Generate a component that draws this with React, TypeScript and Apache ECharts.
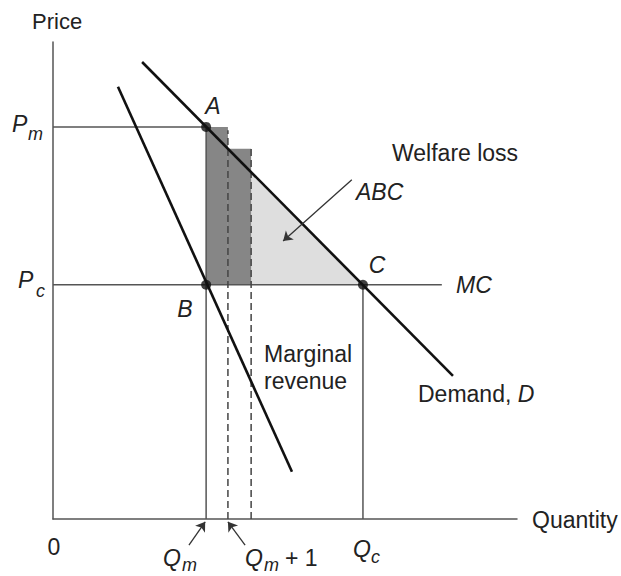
import React, { useEffect, useRef } from "react";
import * as echarts from "echarts";

// Quantities and prices (axis units 0..100)
const Qm = 33.0;
const Qm1 = 37.7;
const Qm2 = 42.7;
const Qc = 66.8;
const Pm = 82.2;
const Pc = 49.1;
const bar2Top = 77.6;

const demandLine: number[][] = [[19.2, 95.8], [86.2, 30.0]];
const mrLine: number[][] = [[14.0, 90.6], [51.5, 9.9]];
const mcLine: number[][] = [[0, Pc], [83.8, Pc]];
const pmLine: number[][] = [[0, Pm], [Qm, Pm]];
const qmLine: number[][] = [[Qm, 0], [Qm, Pm]];
const qcLine: number[][] = [[Qc, 0], [Qc, Pc]];
const dash1: number[][] = [[Qm1, 0], [Qm1, 81.5]];
const dash2: number[][] = [[Qm2, 0], [Qm2, bar2Top]];
const triangle: number[][] = [[Qm, Pm], [Qc, Pc], [Qm, Pc]];
const bars: number[][] = [
  [Qm, Qm1, Pm, Pc],
  [Qm1, Qm2, bar2Top, Pc],
];
const points: number[][] = [[Qm, Pm], [Qm, Pc], [Qc, Pc]];
const arrowLines: number[][][] = [
  [[64.4, 71.1], [49.6, 58.3]],
  [[29.3, -5.5], [32.8, -0.6]],
  [[41.4, -5.5], [37.7, -0.6]],
];

const FONT = "'Liberation Sans', Arial, Helvetica, sans-serif";
const TXT = "#222";

function txt(x: number, y: number, text: string, opts: any = {}) {
  return {
    type: "text",
    x,
    y,
    style: {
      text,
      fill: TXT,
      font: `${opts.italic ? "italic " : ""}${opts.size || 23}px ${FONT}`,
      textAlign: opts.align || "left",
      textVerticalAlign: "middle",
      verticalAlign: "middle",
      rich: opts.rich,
    },
  };
}

export default function App() {
  const ref = useRef<HTMLDivElement>(null);
  useEffect(() => {
    if (!ref.current) return;
    const chart = echarts.init(ref.current, null, { renderer: "svg" });
    const thin = { color: "#555", width: 1.5 };
    const thick = { color: "#111", width: 2.6 };
    const lineSeries = (data: number[][], style: any) => ({
      type: "line",
      data,
      symbol: "none",
      lineStyle: style,
      silent: true,
      z: 3,
    });
    chart.setOption({
      animation: false,
      backgroundColor: "#fff",
      grid: { left: 53, top: 42, right: 104, bottom: 57 },
      xAxis: {
        type: "value",
        min: 0,
        max: 100,
        axisLine: { lineStyle: { color: "#555", width: 1.5 } },
        axisTick: { show: false },
        axisLabel: { show: false },
        splitLine: { show: false },
      },
      yAxis: {
        type: "value",
        min: 0,
        max: 100,
        axisLine: { show: true, lineStyle: { color: "#555", width: 1.5 } },
        axisTick: { show: false },
        axisLabel: { show: false },
        splitLine: { show: false },
      },
      series: [
        {
          type: "custom",
          data: [0],
          z: 1,
          renderItem: (_p: any, api: any) => ({
            type: "polygon",
            shape: { points: triangle.map((p) => api.coord(p)) },
            style: { fill: "#dedede" },
          }),
        },
        {
          type: "custom",
          data: bars,
          z: 2,
          renderItem: (_p: any, api: any) => {
            const a = api.coord([api.value(0), api.value(2)]);
            const b = api.coord([api.value(1), api.value(3)]);
            return {
              type: "rect",
              shape: { x: a[0], y: a[1], width: b[0] - a[0], height: b[1] - a[1] },
              style: { fill: "#868686" },
            };
          },
        },
        lineSeries(pmLine, thin),
        lineSeries(mcLine, thin),
        lineSeries(qmLine, thin),
        lineSeries(qcLine, thin),
        lineSeries(dash1, { color: "#444", width: 1.5, type: [7, 4] }),
        lineSeries(dash2, { color: "#444", width: 1.5, type: [7, 4] }),
        lineSeries(demandLine, thick),
        lineSeries(mrLine, thick),
        {
          type: "lines",
          coordinateSystem: "cartesian2d",
          clip: false,
          symbol: ["none", "arrow"],
          symbolSize: 9,
          lineStyle: { color: "#333", width: 1.3, opacity: 1 },
          data: arrowLines.map((c) => ({ coords: c })),
          z: 4,
        },
        {
          type: "scatter",
          data: points,
          symbolSize: 10,
          itemStyle: { color: "#111" },
          z: 5,
        },
      ],
      graphic: [
        txt(32, 21, "Price", { size: 22 }),
        txt(12, 124, "P", { italic: true }),
        txt(28, 134, "m", { italic: true, size: 18 }),
        txt(18, 280, "P", { italic: true }),
        txt(36, 291, "c", { italic: true, size: 18 }),
        txt(213, 106, "A", { italic: true, align: "center" }),
        txt(185, 309, "B", { italic: true, align: "center" }),
        txt(377, 265, "C", { italic: true, align: "center" }),
        txt(456, 285, "MC", { italic: true }),
        txt(392, 153, "Welfare loss"),
        txt(356, 192, "ABC", { italic: true }),
        txt(264, 354, "Marginal"),
        txt(264, 381, "revenue"),
        txt(418, 394, "Demand, {i|D}", {
          rich: { i: { fontStyle: "italic", fontSize: 23, fontFamily: FONT, fill: TXT, color: TXT } },
        }),
        txt(532, 520, "Quantity"),
        txt(54, 547, "0", { align: "center" }),
        txt(163, 558, "Q", { italic: true }),
        txt(182, 565, "m", { italic: true, size: 18 }),
        txt(245, 558, "Q", { italic: true }),
        txt(264, 565, "m", { italic: true, size: 18 }),
        txt(285, 558, "+ 1"),
        txt(353, 549, "Q", { italic: true }),
        txt(371, 557, "c", { italic: true, size: 18 }),
      ],
    });
    return () => chart.dispose();
  }, []);
  return (
    <div
      ref={ref}
      style={{ position: "absolute", left: 0, top: 0, width: 621, height: 576 }}
    />
  );
}
